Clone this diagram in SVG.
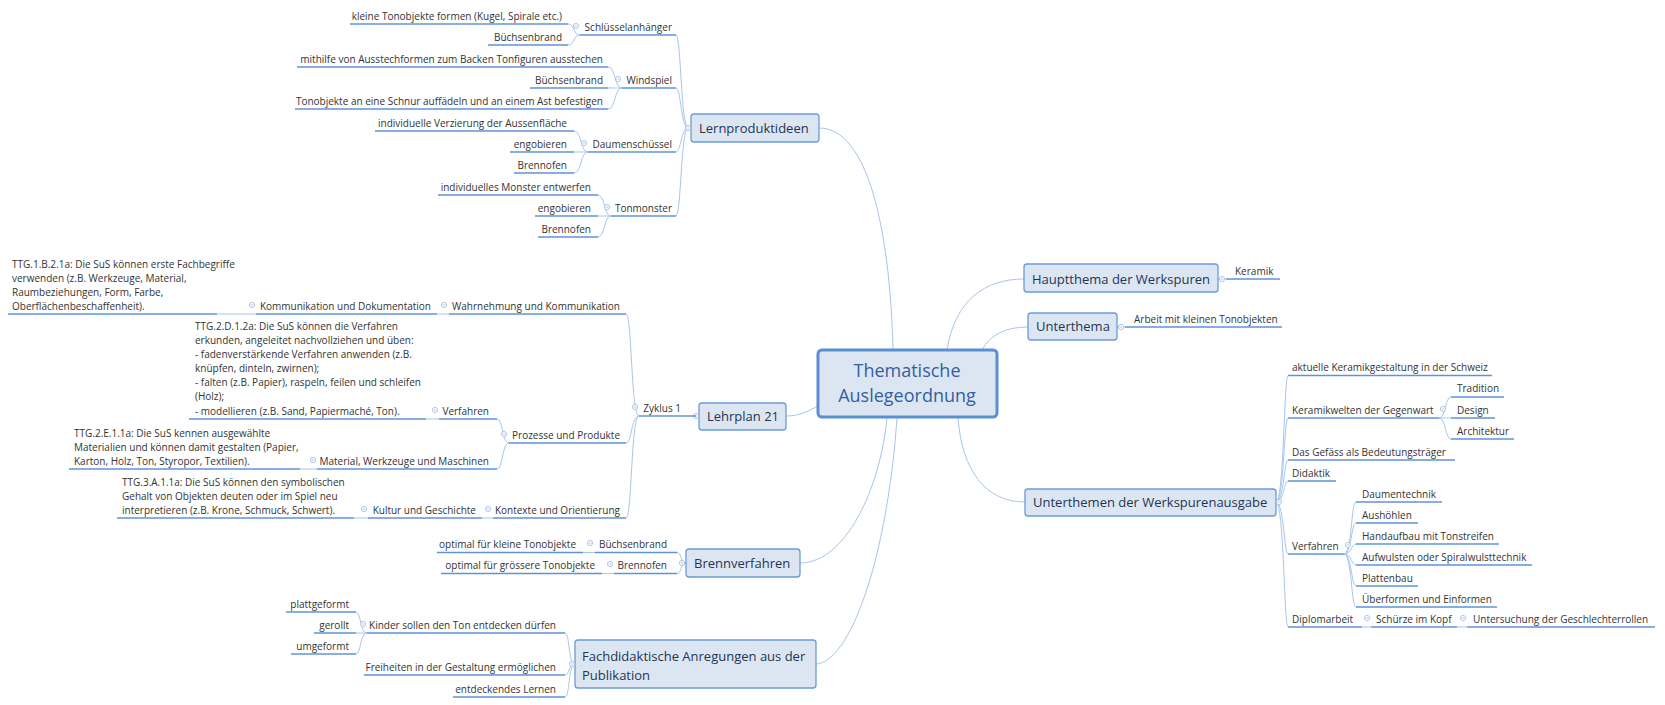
<svg xmlns="http://www.w3.org/2000/svg" xmlns:xlink="http://www.w3.org/1999/xlink" width="1665" height="705" viewBox="0 0 1665 705">
<style>
.box{fill:#dce6f2;stroke:#6b9bd9;stroke-width:1.3}
.central{fill:#dce6f2;stroke:#5a8ed6;stroke-width:3}
.ul{stroke:#5f93d9;stroke-width:1.5;fill:none}
.cn{stroke:#a8c5ec;stroke-width:1;fill:none}
text{font-family:"Open Sans","Liberation Sans",sans-serif}
.t{font-size:10px;fill:#333333}
.e{text-anchor:end}
.tm{font-size:13px;fill:#243552}
.tc{font-size:18px;fill:#33609e;text-anchor:middle}
.btn circle{fill:#ffffff;stroke:#9fb8da;stroke-width:0.8}
.btn path{stroke:#9fb8da;stroke-width:0.8}
</style>
<defs>
<g id="btn" class="btn"><circle cx="0" cy="0" r="2.6"/><path d="M-1.3,0H1.3"/></g>
</defs>
<rect width="1665" height="705" fill="#ffffff"/>

<g id="connectors">
<!-- central to main topics -->
<path class="cn" d="M819,128 C868,128 890,230 893,350"/>
<path class="cn" d="M786,416 C800,416 808,411 818,406"/>
<path class="cn" d="M800,563 C845,563 880,490 887,418"/>
<path class="cn" d="M816,664 C850,662 887,560 897,418"/>
<path class="cn" d="M1024,279 C985,279 955,300 947,350"/>
<path class="cn" d="M1028,327 C1005,327 990,335 982,350"/>
<path class="cn" d="M1025,502 C985,502 962,470 958,418"/>
<!-- Lernproduktideen -->
<path class="cn" d="M688,128 C681,128 681,35 676,35"/>
<path class="cn" d="M688,128 C681,128 681,88 676,88"/>
<path class="cn" d="M688,128 C681,128 681,152 676,152"/>
<path class="cn" d="M688,128 C681,128 681,216 676,216"/>
<path class="cn" d="M580,35 C573,35 575,24 568,24"/>
<path class="cn" d="M580,35 C573,35 575,45 568,45"/>
<path class="cn" d="M622,88 C614,88 616,67 608,67"/>
<path class="cn" d="M622,88 L608,88"/>
<path class="cn" d="M622,88 C614,88 616,109 608,109"/>
<path class="cn" d="M588,152 C580,152 582,131 574,131"/>
<path class="cn" d="M588,152 L574,152"/>
<path class="cn" d="M588,152 C580,152 582,173 574,173"/>
<path class="cn" d="M611,216 C604,216 605,195 598,195"/>
<path class="cn" d="M611,216 L598,216"/>
<path class="cn" d="M611,216 C604,216 605,237 598,237"/>
<!-- Lehrplan 21 -->
<path class="cn" d="M639,416 C631,416 632,314 626,314"/>
<path class="cn" d="M639,416 C631,416 632,443 626,443"/>
<path class="cn" d="M639,416 C631,416 632,518 626,518"/>
<path class="cn" d="M449,314 L437,314"/>
<path class="cn" d="M256,314 L217,314"/>
<path class="cn" d="M509,443 C502,443 503,419 497,419"/>
<path class="cn" d="M509,443 C502,443 503,469 497,469"/>
<path class="cn" d="M439,419 L426,419"/>
<path class="cn" d="M317,469 L300,469"/>
<path class="cn" d="M493,518 L482,518"/>
<path class="cn" d="M368,518 L354,518"/>
<!-- Brennverfahren -->
<path class="cn" d="M686,563 C680,563 682,552.5 677,552.5"/>
<path class="cn" d="M686,563 C680,563 682,573.5 677,573.5"/>
<path class="cn" d="M595,552.5 L583,552.5"/>
<path class="cn" d="M614,573.5 L602,573.5"/>
<!-- Fachdidaktische -->
<path class="cn" d="M575,664 C568,664 570,633 565,633"/>
<path class="cn" d="M575,664 C568,664 570,675 565,675"/>
<path class="cn" d="M575,664 C568,664 570,697 565,697"/>
<path class="cn" d="M367,633 C360,633 361,612 356,612"/>
<path class="cn" d="M367,633 L356,633"/>
<path class="cn" d="M367,633 C360,633 361,654 356,654"/>
<!-- right side -->
<path class="cn" d="M1218,279 L1226,279"/>
<path class="cn" d="M1117,327 L1125,327"/>
<path class="cn" d="M1276,502 C1284,502 1284,375.5 1288,375.5"/>
<path class="cn" d="M1276,502 C1284,502 1284,418 1288,418"/>
<path class="cn" d="M1276,502 C1284,502 1284,460 1288,460"/>
<path class="cn" d="M1276,502 C1284,502 1284,481 1288,481"/>
<path class="cn" d="M1276,502 C1284,502 1284,554 1288,554"/>
<path class="cn" d="M1276,502 C1284,502 1284,627 1288,627"/>
<path class="cn" d="M1439,418 C1446,418 1445,397 1451,397"/>
<path class="cn" d="M1439,418 L1451,418"/>
<path class="cn" d="M1439,418 C1446,418 1445,439 1451,439"/>
<path class="cn" d="M1344,554 C1352,554 1351,502 1356,502"/>
<path class="cn" d="M1344,554 C1352,554 1351,523 1356,523"/>
<path class="cn" d="M1344,554 C1352,554 1351,544 1356,544"/>
<path class="cn" d="M1344,554 C1352,554 1351,565 1356,565"/>
<path class="cn" d="M1344,554 C1352,554 1351,586 1356,586"/>
<path class="cn" d="M1344,554 C1352,554 1351,607 1356,607"/>
<path class="cn" d="M1362,627 L1371,627"/>
<path class="cn" d="M1457,627 L1467,627"/>
</g>

<g id="central">
<rect class="central" x="818" y="350" width="179" height="67" rx="4"/>
<text class="tc" x="907" y="377">Thematische</text>
<text class="tc" x="907" y="402">Auslegeordnung</text>
</g>

<g id="lernproduktideen">
<rect class="box" x="691" y="114" width="128" height="28" rx="3"/>
<text class="tm" x="699" y="132.5">Lernproduktideen</text>
<use href="#btn" x="688" y="128"/>
</g>
<g id="schluesselanhaenger">
<path class="ul" d="M580,35H676"/>
<text class="t e" x="672" y="30.5">Schlüsselanhänger</text>
<use href="#btn" x="576" y="26"/>
</g>
<g id="kleine-tonobjekte">
<path class="ul" d="M350,24H568"/>
<text class="t e" x="562" y="19.5">kleine Tonobjekte formen (Kugel, Spirale etc.)</text>
</g>
<g id="buechsenbrand-1">
<path class="ul" d="M488,45H568"/>
<text class="t e" x="562" y="40.5">Büchsenbrand</text>
</g>
<g id="windspiel">
<path class="ul" d="M622,88H676"/>
<text class="t e" x="672" y="83.5">Windspiel</text>
<use href="#btn" x="618" y="79"/>
</g>
<g id="mithilfe">
<path class="ul" d="M297,67H608"/>
<text class="t e" x="603" y="62.5">mithilfe von Ausstechformen zum Backen Tonfiguren ausstechen</text>
</g>
<g id="buechsenbrand-2">
<path class="ul" d="M530,88H608"/>
<text class="t e" x="603" y="83.5">Büchsenbrand</text>
</g>
<g id="schnur">
<path class="ul" d="M295,109H608"/>
<text class="t e" x="603" y="104.5">Tonobjekte an eine Schnur auffädeln und an einem Ast befestigen</text>
</g>
<g id="daumenschuessel">
<path class="ul" d="M588,152H676"/>
<text class="t e" x="672" y="147.5">Daumenschüssel</text>
<use href="#btn" x="584" y="143"/>
</g>
<g id="verzierung">
<path class="ul" d="M375,131H574"/>
<text class="t e" x="567" y="126.5">individuelle Verzierung der Aussenfläche</text>
</g>
<g id="engobieren-1">
<path class="ul" d="M510,152H574"/>
<text class="t e" x="567" y="147.5">engobieren</text>
</g>
<g id="brennofen-1">
<path class="ul" d="M514,173H574"/>
<text class="t e" x="567" y="168.5">Brennofen</text>
</g>
<g id="tonmonster">
<path class="ul" d="M611,216H676"/>
<text class="t e" x="672" y="211.5">Tonmonster</text>
<use href="#btn" x="607" y="207"/>
</g>
<g id="monster">
<path class="ul" d="M438,195H598"/>
<text class="t e" x="591" y="190.5">individuelles Monster entwerfen</text>
</g>
<g id="engobieren-2">
<path class="ul" d="M535,216H598"/>
<text class="t e" x="591" y="211.5">engobieren</text>
</g>
<g id="brennofen-2">
<path class="ul" d="M538,237H598"/>
<text class="t e" x="591" y="232.5">Brennofen</text>
</g>

<g id="lehrplan21">
<rect class="box" x="699" y="403" width="87" height="27" rx="3"/>
<text class="tm" x="707" y="421">Lehrplan 21</text>
<use href="#btn" x="696" y="416"/>
</g>
<g id="zyklus1">
<path class="ul" d="M639,416H696"/>
<text class="t e" x="681" y="411.5">Zyklus 1</text>
<use href="#btn" x="635" y="407"/>
</g>
<g id="wahrnehmung">
<path class="ul" d="M449,314H626"/>
<text class="t e" x="620" y="309.5">Wahrnehmung und Kommunikation</text>
<use href="#btn" x="444" y="305"/>
</g>
<g id="kommunikation">
<path class="ul" d="M256,314H437"/>
<text class="t e" x="431" y="309.5">Kommunikation und Dokumentation</text>
<use href="#btn" x="252" y="305"/>
</g>
<g id="ttg1b">
<path class="ul" d="M8,314H217"/>
<text class="t" x="12" y="267.5">TTG.1.B.2.1a: Die SuS können erste Fachbegriffe</text>
<text class="t" x="12" y="281.5">verwenden (z.B. Werkzeuge, Material,</text>
<text class="t" x="12" y="295.5">Raumbeziehungen, Form, Farbe,</text>
<text class="t" x="12" y="309.5">Oberflächenbeschaffenheit).</text>
</g>
<g id="prozesse">
<path class="ul" d="M509,443H626"/>
<text class="t e" x="620" y="438.5">Prozesse und Produkte</text>
<use href="#btn" x="504" y="434"/>
</g>
<g id="verfahren-lp">
<path class="ul" d="M439,419H497"/>
<text class="t e" x="489" y="414.5">Verfahren</text>
<use href="#btn" x="435" y="410"/>
</g>
<g id="ttg2d">
<path class="ul" d="M189,419H426"/>
<text class="t" x="195" y="329.5">TTG.2.D.1.2a: Die SuS können die Verfahren</text>
<text class="t" x="195" y="343.5">erkunden, angeleitet nachvollziehen und üben:</text>
<text class="t" x="195" y="357.5">- fadenverstärkende Verfahren anwenden (z.B.</text>
<text class="t" x="195" y="371.5">knüpfen, dinteln, zwirnen);</text>
<text class="t" x="195" y="385.5">- falten (z.B. Papier), raspeln, feilen und schleifen</text>
<text class="t" x="195" y="399.5">(Holz);</text>
<text class="t" x="195" y="414.5">- modellieren (z.B. Sand, Papiermaché, Ton).</text>
</g>
<g id="material">
<path class="ul" d="M317,469H497"/>
<text class="t e" x="489" y="464.5">Material, Werkzeuge und Maschinen</text>
<use href="#btn" x="313" y="460"/>
</g>
<g id="ttg2e">
<path class="ul" d="M69,469H300"/>
<text class="t" x="74" y="436.5">TTG.2.E.1.1a: Die SuS kennen ausgewählte</text>
<text class="t" x="74" y="450.5">Materialien und können damit gestalten (Papier,</text>
<text class="t" x="74" y="464.5">Karton, Holz, Ton, Styropor, Textilien).</text>
</g>
<g id="kontexte">
<path class="ul" d="M493,518H626"/>
<text class="t e" x="620" y="513.5">Kontexte und Orientierung</text>
<use href="#btn" x="488" y="509"/>
</g>
<g id="kultur">
<path class="ul" d="M368,518H482"/>
<text class="t e" x="476" y="513.5">Kultur und Geschichte</text>
<use href="#btn" x="364" y="509"/>
</g>
<g id="ttg3a">
<path class="ul" d="M117,518H354"/>
<text class="t" x="122" y="485.5">TTG.3.A.1.1a: Die SuS können den symbolischen</text>
<text class="t" x="122" y="499.5">Gehalt von Objekten deuten oder im Spiel neu</text>
<text class="t" x="122" y="513.5">interpretieren (z.B. Krone, Schmuck, Schwert).</text>
</g>

<g id="brennverfahren">
<rect class="box" x="686" y="549" width="114" height="28" rx="3"/>
<text class="tm" x="694" y="567.5">Brennverfahren</text>
<use href="#btn" x="682" y="563"/>
</g>
<g id="buechsenbrand-3">
<path class="ul" d="M595,552.5H677"/>
<text class="t e" x="667" y="548">Büchsenbrand</text>
<use href="#btn" x="590" y="543"/>
</g>
<g id="optimal-klein">
<path class="ul" d="M437,552.5H583"/>
<text class="t e" x="576" y="548">optimal für kleine Tonobjekte</text>
</g>
<g id="brennofen-3">
<path class="ul" d="M614,573.5H677"/>
<text class="t e" x="667" y="569">Brennofen</text>
<use href="#btn" x="610" y="564"/>
</g>
<g id="optimal-gross">
<path class="ul" d="M441,573.5H602"/>
<text class="t e" x="595" y="569">optimal für grössere Tonobjekte</text>
</g>

<g id="fachdidaktische">
<rect class="box" x="575" y="640" width="241" height="48" rx="3"/>
<text class="tm" x="582" y="660.5">Fachdidaktische Anregungen aus der</text>
<text class="tm" x="582" y="679.5">Publikation</text>
<use href="#btn" x="572" y="664"/>
</g>
<g id="kinder">
<path class="ul" d="M367,633H565"/>
<text class="t e" x="556" y="628.5">Kinder sollen den Ton entdecken dürfen</text>
<use href="#btn" x="363" y="624"/>
</g>
<g id="plattgeformt">
<path class="ul" d="M286,612H356"/>
<text class="t e" x="349" y="607.5">plattgeformt</text>
</g>
<g id="gerollt">
<path class="ul" d="M314,633H356"/>
<text class="t e" x="349" y="628.5">gerollt</text>
</g>
<g id="umgeformt">
<path class="ul" d="M291,654H356"/>
<text class="t e" x="349" y="649.5">umgeformt</text>
</g>
<g id="freiheiten">
<path class="ul" d="M364,675H565"/>
<text class="t e" x="556" y="670.5">Freiheiten in der Gestaltung ermöglichen</text>
</g>
<g id="entdeckendes">
<path class="ul" d="M453,697H565"/>
<text class="t e" x="556" y="692.5">entdeckendes Lernen</text>
</g>

<g id="hauptthema">
<rect class="box" x="1024" y="264" width="194" height="28" rx="3"/>
<text class="tm" x="1032" y="283.5">Hauptthema der Werkspuren</text>
<use href="#btn" x="1222" y="279"/>
</g>
<g id="keramik">
<path class="ul" d="M1226,279H1280"/>
<text class="t" x="1235" y="274.5">Keramik</text>
</g>
<g id="unterthema">
<rect class="box" x="1028" y="313" width="89" height="27" rx="3"/>
<text class="tm" x="1036" y="331">Unterthema</text>
<use href="#btn" x="1121" y="327"/>
</g>
<g id="arbeit">
<path class="ul" d="M1125,327H1282"/>
<text class="t" x="1134" y="322.5">Arbeit mit kleinen Tonobjekten</text>
</g>
<g id="unterthemen">
<rect class="box" x="1025" y="489" width="251" height="27" rx="3"/>
<text class="tm" x="1033" y="507">Unterthemen der Werkspurenausgabe</text>
<use href="#btn" x="1279" y="502"/>
</g>
<g id="aktuelle">
<path class="ul" d="M1288,375.5H1492"/>
<text class="t" x="1292" y="371">aktuelle Keramikgestaltung in der Schweiz</text>
</g>
<g id="keramikwelten">
<path class="ul" d="M1288,418H1439"/>
<text class="t" x="1292" y="413.5">Keramikwelten der Gegenwart</text>
<use href="#btn" x="1443" y="409"/>
</g>
<g id="tradition">
<path class="ul" d="M1451,397H1504"/>
<text class="t" x="1457" y="391.5">Tradition</text>
</g>
<g id="design">
<path class="ul" d="M1451,418H1495"/>
<text class="t" x="1457" y="413.5">Design</text>
</g>
<g id="architektur">
<path class="ul" d="M1451,439H1514"/>
<text class="t" x="1457" y="434.5">Architektur</text>
</g>
<g id="gefaess">
<path class="ul" d="M1288,460H1455"/>
<text class="t" x="1292" y="455.5">Das Gefäss als Bedeutungsträger</text>
</g>
<g id="didaktik">
<path class="ul" d="M1288,481H1336"/>
<text class="t" x="1292" y="476.5">Didaktik</text>
</g>
<g id="verfahren-ut">
<path class="ul" d="M1288,554H1344"/>
<text class="t" x="1292" y="549.5">Verfahren</text>
<use href="#btn" x="1348" y="545"/>
</g>
<g id="daumentechnik">
<path class="ul" d="M1356,502H1442"/>
<text class="t" x="1362" y="497.5">Daumentechnik</text>
</g>
<g id="aushoehlen">
<path class="ul" d="M1356,523H1418"/>
<text class="t" x="1362" y="518.5">Aushöhlen</text>
</g>
<g id="handaufbau">
<path class="ul" d="M1356,544H1499"/>
<text class="t" x="1362" y="539.5">Handaufbau mit Tonstreifen</text>
</g>
<g id="aufwulsten">
<path class="ul" d="M1356,565H1532"/>
<text class="t" x="1362" y="560.5">Aufwulsten oder Spiralwulsttechnik</text>
</g>
<g id="plattenbau">
<path class="ul" d="M1356,586H1418"/>
<text class="t" x="1362" y="581.5">Plattenbau</text>
</g>
<g id="ueberformen">
<path class="ul" d="M1356,607H1497"/>
<text class="t" x="1362" y="602.5">Überformen und Einformen</text>
</g>
<g id="diplomarbeit">
<path class="ul" d="M1288,627H1362"/>
<text class="t" x="1292" y="622.5">Diplomarbeit</text>
<use href="#btn" x="1367" y="618"/>
</g>
<g id="schuerze">
<path class="ul" d="M1371,627H1457"/>
<text class="t" x="1376" y="622.5">Schürze im Kopf</text>
<use href="#btn" x="1463" y="618"/>
</g>
<g id="untersuchung">
<path class="ul" d="M1467,627H1655"/>
<text class="t" x="1473" y="622.5">Untersuchung der Geschlechterrollen</text>
</g>
</svg>
